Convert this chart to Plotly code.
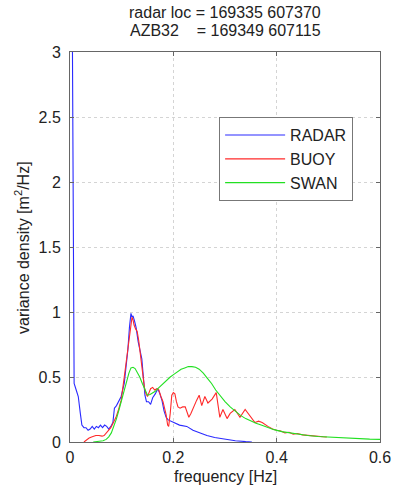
import plotly.graph_objects as go

# ---------------- data ----------------
radar_f = [0.004, 0.008, 0.012, 0.016, 0.020, 0.023, 0.027, 0.031, 0.035, 0.039, 0.043, 0.047,
           0.051, 0.055, 0.059, 0.063, 0.067, 0.071, 0.075, 0.079, 0.083, 0.086, 0.090, 0.094,
           0.099, 0.105, 0.109, 0.112, 0.115, 0.118, 0.120, 0.122, 0.125, 0.128, 0.132, 0.136,
           0.139, 0.142, 0.145, 0.148, 0.152, 0.156, 0.160, 0.165, 0.170, 0.174, 0.178, 0.182,
           0.186, 0.190, 0.200, 0.212, 0.226, 0.238, 0.252, 0.265, 0.280, 0.300, 0.320, 0.340, 0.352]
radar_v = [3.6, 0.45, 0.40, 0.35, 0.22, 0.13, 0.11, 0.11, 0.09, 0.10, 0.12, 0.10,
           0.12, 0.11, 0.13, 0.11, 0.13, 0.12, 0.10, 0.12, 0.15, 0.26, 0.28, 0.31,
           0.35, 0.45, 0.60, 0.71, 0.88, 0.99, 0.96, 0.97, 0.93, 0.88, 0.77, 0.70,
           0.64, 0.50, 0.36, 0.31, 0.31, 0.29, 0.34, 0.37, 0.41, 0.37, 0.32, 0.24,
           0.19, 0.17, 0.15, 0.13, 0.12, 0.09, 0.07, 0.05, 0.035, 0.02, 0.01, 0.003, 0.0]

buoy_f = [0.027, 0.033, 0.037, 0.043, 0.050, 0.056, 0.062, 0.066, 0.070, 0.075, 0.079, 0.084,
          0.089, 0.094, 0.099, 0.105, 0.109, 0.112, 0.115, 0.118, 0.120, 0.122, 0.124, 0.127,
          0.130, 0.133, 0.135, 0.138, 0.141, 0.144, 0.147, 0.150, 0.153, 0.156, 0.160, 0.164,
          0.168, 0.172, 0.176, 0.180, 0.183, 0.186, 0.189, 0.191, 0.194, 0.197, 0.200, 0.203,
          0.206, 0.209, 0.213, 0.218, 0.223, 0.227, 0.230, 0.234, 0.239, 0.245, 0.250, 0.255,
          0.261, 0.267, 0.275, 0.283, 0.290, 0.296, 0.304, 0.310, 0.319, 0.329, 0.339, 0.348,
          0.358, 0.365, 0.372, 0.383, 0.392, 0.400, 0.408, 0.416, 0.424, 0.432, 0.440, 0.450,
          0.460, 0.470, 0.480, 0.490, 0.497]
buoy_v = [0.0, 0.02, 0.03, 0.04, 0.05, 0.05, 0.045, 0.05, 0.07, 0.09, 0.11, 0.15,
          0.19, 0.25, 0.32, 0.50, 0.63, 0.73, 0.83, 0.91, 0.96, 0.94, 0.90, 0.87,
          0.85, 0.78, 0.71, 0.60, 0.50, 0.42, 0.37, 0.35, 0.38, 0.41, 0.42, 0.40,
          0.41, 0.40, 0.35, 0.31, 0.26, 0.21, 0.13, 0.12, 0.22, 0.36, 0.38, 0.37,
          0.31, 0.27, 0.26, 0.27, 0.27, 0.22, 0.19, 0.22, 0.27, 0.32, 0.36, 0.28,
          0.35, 0.30, 0.33, 0.38, 0.19, 0.25, 0.18, 0.22, 0.25, 0.19, 0.25, 0.20,
          0.15, 0.16, 0.15, 0.12, 0.10, 0.09, 0.085, 0.07, 0.075, 0.06, 0.065, 0.055,
          0.05, 0.048, 0.045, 0.04, 0.038]

swan_f = [0.045, 0.055, 0.064, 0.070, 0.075, 0.080, 0.085, 0.090, 0.095, 0.100, 0.105, 0.110,
          0.114, 0.118, 0.122, 0.126, 0.130, 0.135, 0.140, 0.145, 0.150, 0.155, 0.160, 0.165,
          0.170, 0.175, 0.180, 0.187, 0.194, 0.201, 0.208, 0.215, 0.222, 0.229, 0.236, 0.243,
          0.250, 0.258, 0.266, 0.274, 0.282, 0.290, 0.300, 0.310, 0.320, 0.330, 0.340, 0.350,
          0.360, 0.370, 0.380, 0.395, 0.410, 0.425, 0.440, 0.460, 0.480, 0.500, 0.520, 0.540,
          0.560, 0.580, 0.600]
swan_v = [0.0, 0.003, 0.01, 0.02, 0.04, 0.07, 0.12, 0.18, 0.25, 0.33, 0.41, 0.48,
          0.53, 0.57, 0.575, 0.565, 0.54, 0.50, 0.45, 0.40, 0.36, 0.365, 0.375, 0.39,
          0.41, 0.43, 0.45, 0.48, 0.50, 0.52, 0.54, 0.56, 0.57, 0.58, 0.58, 0.575,
          0.56, 0.53, 0.49, 0.45, 0.40, 0.36, 0.31, 0.27, 0.235, 0.205, 0.18, 0.16,
          0.145, 0.13, 0.115, 0.095, 0.08, 0.07, 0.06, 0.05, 0.042, 0.037, 0.032, 0.028,
          0.025, 0.022, 0.02]

x_ticks = [0, 0.2, 0.4, 0.6]
x_tick_labels = ["0", "0.2", "0.4", "0.6"]
y_ticks = [0, 0.5, 1, 1.5, 2, 2.5, 3]
y_tick_labels = ["0", "0.5", "1", "1.5", "2", "2.5", "3"]

title_lines = ["radar loc = 169335 607370", "AZB32&nbsp;&nbsp;&nbsp;&nbsp;= 169349 607115"]

FONT = "Liberation Sans, Arial, sans-serif"
TXT = "#222222"

fig = go.Figure()
fig.add_trace(go.Scatter(x=radar_f, y=radar_v, mode="lines", name="RADAR",
                         line=dict(color="#2a2aff", width=1.1)))
fig.add_trace(go.Scatter(x=buoy_f, y=buoy_v, mode="lines", name="BUOY",
                         line=dict(color="#ff2a2a", width=1.1)))
fig.add_trace(go.Scatter(x=swan_f, y=swan_v, mode="lines", name="SWAN",
                         line=dict(color="#22e022", width=1.1)))

axis_common = dict(
    showline=True, linecolor="#666666", linewidth=1, mirror="allticks",
    ticks="inside", ticklen=4, tickcolor="#666666", automargin=False,
    showgrid=True, gridcolor="#d4d4d4", griddash="dot", gridwidth=1,
    zeroline=False, tickfont=dict(family=FONT, size=16, color=TXT),
)

fig.update_xaxes(range=[0, 0.6], tickvals=x_ticks, ticktext=x_tick_labels,
                 ticklabelstandoff=1, **axis_common)
fig.update_yaxes(range=[0, 3], tickvals=y_ticks, ticktext=y_tick_labels,
                 ticklabelstandoff=5, **axis_common)

annotations = [
    dict(text=title_lines[0], x=0.5, y=(442 - 13) / 390),
    dict(text=title_lines[1], x=0.5, y=(442 - 31) / 390),
    dict(text="frequency [Hz]", x=0.5, y=-0.088),
    dict(text="variance density [m<sup>2</sup>/Hz]", x=-0.155, y=0.5, textangle=-90),
]
for a in annotations:
    a.update(xref="paper", yref="paper", xanchor="center", yanchor="middle",
             showarrow=False, font=dict(family=FONT, size=16, color=TXT))

fig.update_layout(
    width=393, height=490,
    margin=dict(l=70, r=13, t=52, b=48, autoexpand=False),
    plot_bgcolor="white", paper_bgcolor="white",
    font=dict(family=FONT, size=16, color=TXT),
    legend=dict(
        x=0.481, y=0.833, xanchor="left", yanchor="top",
        bgcolor="white", bordercolor="#777777", borderwidth=1,
        font=dict(family=FONT, size=16, color=TXT),
        itemwidth=60,
    ),
    annotations=annotations,
)

fig.write_html("out.html")
